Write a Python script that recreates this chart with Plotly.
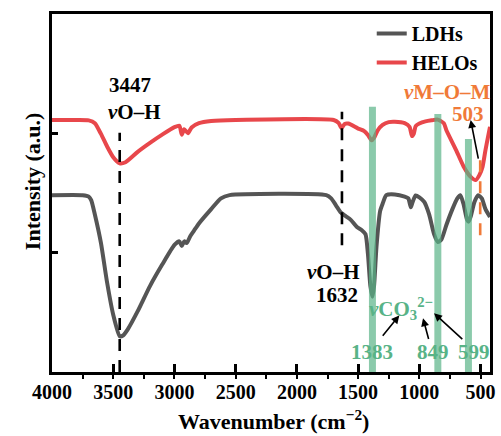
import plotly.graph_objects as go

# ---- data ----
helos_wn = [4000, 3800, 3700, 3650, 3600, 3550, 3500, 3447, 3400, 3300, 3200, 3100, 3000,
            2960, 2940, 2920, 2890, 2860, 2800, 2700, 2500, 1700, 1660, 1635, 1610, 1580,
            1500, 1450, 1420, 1390, 1370, 1340, 1300, 1250, 1200, 1120, 1080, 1060, 1045,
            1030, 1000, 950, 900, 850, 800, 780, 700, 640, 580, 540, 510, 484, 460, 440, 423]
helos_int = [70.4, 70.4, 70.3, 69.5, 66.5, 63.0, 60.0, 58.3, 58.6, 61.5, 64.0, 66.3, 68.4,
             68.8, 66.3, 67.8, 66.7, 68.3, 69.5, 70.1, 70.4, 70.4, 69.6, 68.1, 69.3, 69.4,
             68.0, 67.3, 66.2, 64.7, 65.4, 67.5, 69.0, 69.8, 69.9, 69.5, 68.5, 65.9, 66.6,
             68.7, 69.4, 70.0, 70.3, 70.5, 69.5, 67.6, 62.0, 57.5, 54.5, 53.6, 55.0, 57.3,
             62.0, 65.5, 68.5]

ldhs_wn = [4000, 3750, 3700, 3680, 3650, 3600, 3550, 3500, 3447, 3420, 3380, 3300, 3200,
           3100, 3000, 2960, 2940, 2920, 2900, 2870, 2840, 2800, 2700, 2620, 2550, 1760,
           1720, 1680, 1640, 1600, 1560, 1510, 1470, 1440, 1420, 1400, 1383, 1370, 1350,
           1320, 1300, 1270, 1200, 1120, 1090, 1070, 1055, 1030, 1000, 960, 920, 880, 849,
           820, 780, 730, 690, 665, 640, 610, 597, 580, 550, 520, 490, 460, 423]
ldhs_int = [49.4, 49.4, 49.0, 48.0, 44.0, 36.0, 25.0, 16.0, 10.0, 10.2, 12.0, 17.0, 24.0,
            30.0, 35.5, 36.5, 35.2, 36.5, 36.0, 38.0, 39.5, 41.5, 45.5, 48.5, 49.4, 49.4,
            48.5, 46.5, 44.5, 43.5, 42.5, 40.5, 39.6, 38.5, 33.0, 24.0, 21.0, 24.0, 35.0,
            45.0, 47.0, 49.4, 49.6, 49.0, 48.5, 46.0, 47.5, 49.3, 48.8, 47.5, 44.0, 38.5,
            36.3, 37.0, 41.0, 45.5, 48.5, 49.4, 47.0, 42.5, 42.0, 43.5, 47.5, 49.4, 48.5,
            45.5, 43.3]

band_centers = [1383, 849, 599]
band_tops = [74.1, 72.1, 65.1]
band_width = 57

x_ticks = [4000, 3500, 3000, 2500, 2000, 1500, 1000, 500]
y_ticks = [33.33, 66.67]

FONT = "Times New Roman, Liberation Serif, serif"
GREEN_TXT = "#58b387"
ORANGE = "#f07a38"
RED = "#e8474b"
GRAY = "#555555"

fig = go.Figure()
fig.add_trace(go.Scatter(x=ldhs_wn, y=ldhs_int, mode="lines", name="LDHs",
                         line=dict(color=GRAY, width=4, shape="spline", smoothing=0.6)))
fig.add_trace(go.Scatter(x=helos_wn, y=helos_int, mode="lines", name="HELOs",
                         line=dict(color=RED, width=4, shape="spline", smoothing=0.6)))

shapes = []
for c, t in zip(band_centers, band_tops):
    shapes.append(dict(type="rect", xref="x", yref="y", x0=c - band_width / 2, x1=c + band_width / 2,
                       y0=0, y1=t, fillcolor="rgba(90,180,135,0.7)", line=dict(width=0),
                       layer="above"))
# dashed marker lines
shapes.append(dict(type="line", xref="x", yref="y", x0=3447, x1=3447, y0=0, y1=66.8,
                   line=dict(color="black", width=2.6, dash="12px,9px")))
shapes.append(dict(type="line", xref="x", yref="y", x0=1632, x1=1632, y0=35.4, y1=72.7,
                   line=dict(color="black", width=2.6, dash="12px,9px")))
shapes.append(dict(type="line", xref="x", yref="y", x0=503, x1=503, y0=38.2, y1=61.0,
                   line=dict(color=ORANGE, width=2.6, dash="12px,9px")))

def txt(x, y, s, color="black", size=21):
    return dict(x=x, y=y, xref="x", yref="y", text=s, showarrow=False,
                font=dict(family=FONT, size=size, color=color, weight="bold"))

def arrow(x, y, ax, ay):
    return dict(x=x, y=y, ax=ax, ay=ay, xref="x", yref="y", axref="x", ayref="y", text="",
                showarrow=True, arrowhead=2, arrowsize=1, arrowwidth=1.6, arrowcolor="black")

annotations = [
    txt(3365, 80.3, "3447"),
    txt(3324, 72.7, "<i>ν</i>O–H"),
    txt(775, 78.3, "<i>ν</i>M–O–M", ORANGE),
    txt(605, 72.0, "503", ORANGE),
    txt(1698, 27.9, "<i>ν</i>O–H"),
    txt(1673, 21.4, "1632"),
    txt(1150, 17.8, "<i>ν</i>CO<sub>3</sub><sup>2−</sup>", GREEN_TXT),
    txt(1383, 5.5, "1383", GREEN_TXT),
    txt(889, 5.5, "849", GREEN_TXT),
    txt(556, 5.5, "599", GREEN_TXT),
    arrow(1164, 15.8, 1309, 9.7),
    arrow(970, 15.0, 921, 8.8),
    arrow(880, 16.4, 637, 8.8),
    arrow(581, 70.4, 516, 59.2),
    dict(x=-0.078, y=0.534, xref="paper", yref="paper", text="Intensity (a.u.)", textangle=-90,
         showarrow=False, font=dict(family=FONT, size=22, color="black", weight="bold")),
    dict(x=0.506, y=-0.133, xref="paper", yref="paper", text="Wavenumber (cm<sup>−2</sup>)",
         showarrow=False, yanchor="middle",
         font=dict(family=FONT, size=22, color="black", weight="bold")),
]

fig.update_layout(
    width=501, height=436,
    margin=dict(l=52, r=6, t=14, b=64),
    plot_bgcolor="white", paper_bgcolor="white",
    font=dict(family=FONT, color="black"),
    shapes=shapes, annotations=annotations,
    showlegend=True,
    legend=dict(x=0.73, y=1.0, xanchor="left", yanchor="top", bgcolor="rgba(0,0,0,0)",
                font=dict(family=FONT, size=20, color="black", weight="bold"),
                tracegroupgap=0),
)
fig.update_xaxes(range=[4000, 423], showline=True, linecolor="black", linewidth=3, mirror=True,
                 showgrid=False, zeroline=False, tickvals=x_ticks, ticks="inside", ticklen=8,
                 tickwidth=3, tickcolor="black",
                 tickfont=dict(family=FONT, size=20, color="black", weight="bold"),
                 minor=dict(ticks="outside", ticklen=4, tickwidth=2, tickcolor="black", dtick=250,
                            showgrid=False))
fig.update_yaxes(range=[0, 100], showline=True, linecolor="black", linewidth=3, mirror=True,
                 showgrid=False, zeroline=False, tickvals=y_ticks, ticks="inside", ticklen=6,
                 tickwidth=3, tickcolor="black", showticklabels=False)

fig.write_html("out.html", config={"displayModeBar": False},
               post_script="document.body.style.margin='0';")
